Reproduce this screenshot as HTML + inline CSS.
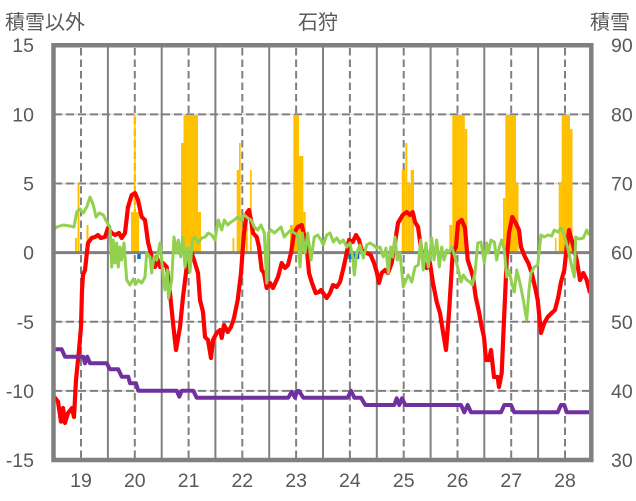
<!DOCTYPE html>
<html><head><meta charset="utf-8"><style>
html,body{margin:0;padding:0;background:#fff;}
svg{display:block;}
text{font-family:"Liberation Sans","Noto Sans CJK JP",sans-serif;fill:#595959;}
</style></head><body>
<svg width="636" height="501" viewBox="0 0 636 501" xmlns="http://www.w3.org/2000/svg">
<rect width="636" height="501" fill="#fff"/>
<!-- light horizontal grid -->
<g stroke="#D9D9D9" stroke-width="1.5">
<line x1="54" x2="591" y1="114.4" y2="114.4"/><line x1="54" x2="591" y1="183.5" y2="183.5"/>
<line x1="54" x2="591" y1="321.8" y2="321.8"/><line x1="54" x2="591" y1="390.9" y2="390.9"/>
</g>
<g stroke="#808080" stroke-width="2" stroke-dasharray="8 4">
<line x1="54" x2="591" y1="114.4" y2="114.4"/><line x1="54" x2="591" y1="183.5" y2="183.5"/>
<line x1="54" x2="591" y1="321.8" y2="321.8"/><line x1="54" x2="591" y1="390.9" y2="390.9"/>
</g>
<!-- vertical solid (midnight) -->
<g stroke="#808080" stroke-width="2">
<line x1="107.9" x2="107.9" y1="45" y2="460"/><line x1="161.7" x2="161.7" y1="45" y2="460"/>
<line x1="215.4" x2="215.4" y1="45" y2="460"/><line x1="269.2" x2="269.2" y1="45" y2="460"/>
<line x1="323" x2="323" y1="45" y2="460"/><line x1="376.8" x2="376.8" y1="45" y2="460"/>
<line x1="430.6" x2="430.6" y1="45" y2="460"/><line x1="484.3" x2="484.3" y1="45" y2="460"/>
<line x1="538.1" x2="538.1" y1="45" y2="460"/>
</g>
<!-- vertical dashed (noon) -->
<g stroke="#808080" stroke-width="2" stroke-dasharray="7.5 4">
<line x1="81" x2="81" y1="48" y2="460"/><line x1="134.8" x2="134.8" y1="48" y2="460"/>
<line x1="188.6" x2="188.6" y1="48" y2="460"/><line x1="242.3" x2="242.3" y1="48" y2="460"/>
<line x1="296.1" x2="296.1" y1="48" y2="460"/><line x1="349.9" x2="349.9" y1="48" y2="460"/>
<line x1="403.7" x2="403.7" y1="48" y2="460"/><line x1="457.5" x2="457.5" y1="48" y2="460"/>
<line x1="511.2" x2="511.2" y1="48" y2="460"/><line x1="565" x2="565" y1="48" y2="460"/>
</g>
<!-- orange bars -->
<g fill="#FFC000">
<rect x="75" y="238" width="2" height="14.6"/><rect x="77.5" y="183" width="2" height="69.6"/><rect x="86.5" y="225" width="2" height="27.6"/>
<rect x="131" y="212" width="8" height="40.6"/><rect x="134" y="115" width="1.5" height="137.6"/>
<rect x="181" y="143" width="2.5" height="109.6"/><rect x="183.5" y="115" width="14.5" height="137.6"/><rect x="198" y="212" width="3" height="40.6"/>
<rect x="232.5" y="238" width="1.8" height="14.6"/><rect x="236.7" y="170" width="2.3" height="82.6"/><rect x="239" y="143" width="1.7" height="109.6"/><rect x="240.7" y="215" width="1.6" height="37.6"/><rect x="245.7" y="220" width="2" height="32.6"/><rect x="250" y="170" width="1.7" height="82.6"/>
<rect x="290" y="225" width="3.3" height="27.6"/><rect x="293.3" y="115" width="5.7" height="137.6"/><rect x="299" y="156" width="4.3" height="96.6"/><rect x="303.3" y="212" width="2.4" height="40.6"/>
<rect x="401.7" y="170" width="3.6" height="82.6"/><rect x="405.3" y="143" width="2" height="109.6"/><rect x="407.3" y="183" width="3.4" height="69.6"/><rect x="410.7" y="170" width="3.3" height="82.6"/>
<rect x="449.3" y="225" width="3" height="27.6"/><rect x="452.3" y="115" width="12.5" height="137.6"/><rect x="464.8" y="129" width="2.5" height="123.6"/>
<rect x="503" y="198" width="2.3" height="54.6"/><rect x="505.3" y="115" width="10.7" height="137.6"/><rect x="516" y="183" width="2.5" height="69.6"/>
<rect x="555" y="238" width="1.5" height="14.6"/><rect x="558.7" y="183" width="3" height="69.6"/><rect x="561.7" y="115" width="8.3" height="137.6"/><rect x="570" y="129" width="2.5" height="123.6"/>
</g>
<!-- zero line -->
<line x1="54" x2="591" y1="252.6" y2="252.6" stroke="#808080" stroke-width="3"/>
<!-- blue bars -->
<g fill="#0070C0">
<rect x="137.3" y="254" width="3.4" height="5"/><rect x="348.3" y="254" width="11" height="5"/>
</g>
<!-- red line -->
<polyline fill="none" stroke="#FF0000" stroke-width="4.2" stroke-linejoin="round" points="54,396.7 58,401.7 61,421.7 63,408 65,423 68,413 72,408 74,417 76,380 79,350 81,327 82,290 83,275 85,270 88,243 91.7,238 95,237 98,235 100.7,238 105,237 108,228 111.7,233 115,235 119,233 121.7,238 125,233 128,207 131.7,195 135,193 138,200 141.7,217 145,220 148,242 151.7,257 155,267 156.7,257 160,267 163,263 166.7,267 170,293 173,323 176,350 180,327 183,297 186.7,267 188,265 191.7,253 195,263 198,273 200,300 203,312 205,337 208,340 211,358 213,340 216.7,333 220,330 221.7,338 224,325 227.7,332 231,327 234,318 237.7,300 241,273 244,233 246.7,213 249,210 251,220 253,233 256.7,237 259,247 261.7,270 264,273 266.7,288 270,283 273,288 278,277 281.7,263 285,268 288,265 291,253 294,233 297.7,227 301.7,225 304,235 306.7,247 309,273 312,283 315.7,293 319,292 321,290 326.7,298 330,293 333,285 336.7,287 340,282 343,270 346.7,253 349,240 352.7,242 356,235 359,240 361.7,250 366.7,253 370.7,255 374,263 376.7,272 379,283 381.7,273 385,270 388,273 391.7,263 395,243 398,223 402.7,215 406.7,212 410,215 412.7,212 415,222 418,227 421.7,253 424,263 426.7,268 430,263 433,283 436.7,302 440,313 442.7,330 446,350 449,313 452.7,253 456,247 458,223 461.7,220 465,228 467.7,260 471,270 473,277 475.7,297 479,312 481.7,327 484,337 486,360 489,360 491,350 494,377 497.7,377 499,387 501.7,373 504,320 506.7,260 509,233 512.3,217 515.7,223 519,230 521,247 525,257 528.3,263 531.7,273 535,287 537.7,300 541,333 544.3,323 547.7,317 551.7,313 555,310 558.3,297 561,282 564.3,270 566.7,247 569,230 571.7,240 574.3,250 576.7,260 580,280 583.3,273 586.7,280 590,293"/>
<!-- green line -->
<polyline fill="none" stroke="#92D050" stroke-width="3" stroke-linejoin="round" points="53.3,230 56.7,227 63.3,225 70,226 74,227 76.7,212 80,209 83.3,213 86.7,207 90,197 93.3,205 96,217 99.3,213 103.3,215 106.7,222 110,227 111.7,267 113.3,240 115,263 116.7,243 118.3,267 120,247 121.7,260 124,243 126.7,280 130,285 133.3,279 136,284 138.3,280 141.7,283 145,277 146.7,253 150,257 151.7,273 154,257 156.7,260 160,243 163.3,277 165,290 167.3,270 168.5,298 171.7,280 174,237 176.7,253 178.3,240 180.7,257 182.7,237 185,267 187.7,248 190,272 192.3,240 195,237 198.3,243 201.7,238 205,237 208.3,233 211.7,235 215,240 218.3,220 221.7,230 224.3,220 227.7,225 231,222 234.3,220 237.7,217 241,220 244.3,215 247.7,218 251,220 254.3,227 257.7,230 261,225 264.3,233 266.7,283 268.3,233 271,230 274.3,233 277.7,230 281,227 284.3,237 287.7,233 291,230 294.3,233 297.7,235 300,267 302.3,233 305,253 307.7,233 311,260 314.3,237 317.7,235 321,240 323.3,245 326.7,235 330,233 333.3,242 336.7,238 340,243 343.3,240 346.7,247 350,243 352.7,257 354.3,275 356.7,253 360,245 363.3,258 366.7,245 370,243 373.3,245 376.7,248 380,247 383.3,257 386,248 388.3,273 390.7,247 392.7,257 395,237 397.3,260 400,253 403.3,287 406,280 408.3,275 411.7,282 415,267 418.3,265 420.7,240 423.3,270 426,243 428.3,267 431.7,238 434,260 436.7,240 439.3,267 441.7,247 444,260 446.7,250 449.3,252 451.7,247 455,257 458.3,270 461,282 463.3,275 466.7,280 470,282 472.3,285 475,273 477.7,243 481,242 484.3,263 486.7,243 488.3,253 491,240 494.3,242 496.7,260 499.3,247 501.7,240 504.3,250 506.7,277 509,270 511.7,283 514.3,292 516.7,270 520,283 523.3,300 526.7,320 529,290 531,273 534.3,267 537.7,265 541,235 544.3,237 547.7,235 551.7,236 554.3,230 557.7,232 561,228 564.3,235 567.7,248 571,263 574.3,277 575.7,237 579,239 583.3,238 586.7,230 589,235"/>
<!-- purple line -->
<polyline fill="none" stroke="#7030A0" stroke-width="4" stroke-linejoin="round" points="53.3,349.3 61.7,349.3 65,356.7 83.3,356.7 85,363.3 87.3,356.7 90,363.3 106.7,363.3 110,369.3 118.3,369.3 121.7,376.7 128.3,376.7 130,383.3 136,383.3 138.3,390.7 176.7,390.7 179.3,396.7 181.7,390.7 193.3,390.7 196.7,397.7 288.3,397.7 291.7,391.7 295,397.7 297,391 299,391 303.3,397.7 347.7,397.7 351,390.7 354.3,397.7 361,397.7 365.3,405 394.3,405 396.7,398.3 399.3,405 402,398.3 405.3,405 461,405 464.3,412.3 467.7,405 471,412.3 501,412.3 504.3,405 511,405 514.3,412.3 557.7,412.3 561,405 564.3,405 566.7,412.3 589.3,412.3"/>
<!-- border -->
<path d="M53.5,460 L53.5,45.3 L591.3,45.3 L591.3,460 Z" fill="none" stroke="#808080" stroke-width="4.5"/>
<!-- left tick labels -->
<g font-size="19.5" text-anchor="end">
<text x="34" y="52">15</text><text x="34" y="121.5">10</text><text x="34" y="190.5">5</text>
<text x="34" y="259.5">0</text><text x="34" y="329">-5</text><text x="34" y="398">-10</text><text x="34" y="467">-15</text>
</g>
<!-- right tick labels -->
<g font-size="19.5" text-anchor="start">
<text x="611" y="52">90</text><text x="611" y="121.5">80</text><text x="611" y="190.5">70</text>
<text x="611" y="259.5">60</text><text x="611" y="329">50</text><text x="611" y="398">40</text><text x="611" y="467">30</text>
</g>
<!-- bottom labels -->
<g font-size="19.5" text-anchor="middle">
<text x="81" y="487">19</text><text x="134.8" y="487">20</text><text x="188.6" y="487">21</text>
<text x="242.3" y="487">22</text><text x="296.1" y="487">23</text><text x="349.9" y="487">24</text>
<text x="403.7" y="487">25</text><text x="457.5" y="487">26</text><text x="511.2" y="487">27</text>
<text x="565" y="487">28</text>
</g>
<!-- titles -->
<text x="5" y="29" font-size="20">積雪以外</text>
<text x="318" y="29" font-size="20" text-anchor="middle">石狩</text>
<text x="610" y="29" font-size="20" text-anchor="middle">積雪</text>
</svg>
</body></html>
